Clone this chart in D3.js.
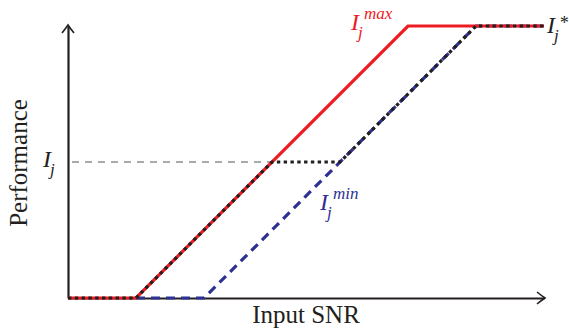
<!DOCTYPE html>
<html>
<head>
<meta charset="utf-8">
<script src="https://cdn.jsdelivr.net/npm/d3@7"></script>
<style>
  html, body { margin: 0; padding: 0; background: #fff; }
  svg { display: block; }
  text { font-family: "Liberation Serif", "Times New Roman", serif; fill: #231f20; }
</style>
</head>
<body>
<svg id="chart" width="569" height="329"></svg>
<script>
// Piecewise-linear performance curves versus input SNR (arbitrary units)
const maxCurveX = [0, 1, 5, 7];          // I_j^max : best-case response
const maxCurveY = [0, 0, 4, 4];
const minCurveX = [1, 2, 6, 7];          // I_j^min : worst-case response
const minCurveY = [0, 0, 4, 4];
const optCurveX = [0, 1, 3, 4, 6, 7];    // I_j^* : achieved response
const optCurveY = [0, 0, 2, 2, 4, 4];
const targetLevel = 2;                   // I_j
const xDomain = [0, 7];
const yDomain = [0, 4];

const svg = d3.select("#chart");
const x = d3.scaleLinear().domain(xDomain).range([68, 544]);
const y = d3.scaleLinear().domain(yDomain).range([298, 26]);

const ink = "#231f20", red = "#ed1c24", blue = "#2e3192";

// Axes: bare domain lines ending in open arrowheads
const gx = svg.append("g").attr("transform", `translate(0,${y(0)})`)
  .call(d3.axisBottom(x).tickValues([]).tickSizeOuter(0));
const gy = svg.append("g").attr("transform", `translate(${x(0)},0)`)
  .call(d3.axisLeft(y).tickValues([]).tickSizeOuter(0));
[gx, gy].forEach(g => g.select(".domain").attr("stroke", ink).attr("stroke-width", 2.2));

const ax = x(0), ay = y(0), tipX = x(xDomain[1]) + 1, tipY = y(yDomain[1]) - 1;
svg.append("path")
  .attr("d", `M${tipX - 8},${ay - 6} Q${tipX - 3},${ay - 2} ${tipX},${ay} Q${tipX - 3},${ay + 2} ${tipX - 8},${ay + 6}`)
  .attr("fill", "none").attr("stroke", ink).attr("stroke-width", 1.6);
svg.append("path")
  .attr("d", `M${ax - 6},${tipY + 8} Q${ax - 2},${tipY + 3} ${ax},${tipY} Q${ax + 2},${tipY + 3} ${ax + 6},${tipY + 8}`)
  .attr("fill", "none").attr("stroke", ink).attr("stroke-width", 1.6);

const line = d3.line().x(d => x(d[0])).y(d => y(d[1]));
const pts = (xs, ys) => xs.map((v, i) => [v, ys[i]]);

// Reference level I_j up to the best-case curve
const levelX = (targetLevel - maxCurveY[1]) + maxCurveX[1];
svg.append("path")
  .attr("d", line([[0, targetLevel], [levelX, targetLevel]]))
  .attr("fill", "none").attr("stroke", "#555").attr("stroke-width", 1)
  .attr("stroke-dasharray", "7,6").attr("stroke-dashoffset", -4);

svg.append("path").attr("d", line(pts(minCurveX, minCurveY)))
  .attr("fill", "none").attr("stroke", blue).attr("stroke-width", 3.2)
  .attr("stroke-dasharray", "9,6");
svg.append("path").attr("d", line(pts(maxCurveX, maxCurveY)))
  .attr("fill", "none").attr("stroke", red).attr("stroke-width", 3.2);
svg.append("path").attr("d", line(pts(optCurveX, optCurveY)))
  .attr("fill", "none").attr("stroke", ink).attr("stroke-width", 3.2)
  .attr("stroke-dasharray", "3.4,3.4");

// Axis titles
svg.append("text").attr("x", 306).attr("y", 323).attr("text-anchor", "middle")
  .attr("font-size", 25).text("Input SNR");
svg.append("text").attr("transform", "translate(27,163) rotate(-90)")
  .attr("text-anchor", "middle").attr("font-size", 25).text("Performance");

// Math labels: I with subscript j and optional superscript, as one text element
function mathLabel(px, py, sup, color, supSize, supDx) {
  const t = svg.append("text").style("font-style", "italic").style("fill", color);
  t.append("tspan").attr("x", px).attr("y", py).attr("font-size", 24).text("I");
  t.append("tspan").attr("x", px + 7).attr("y", py + 8).attr("font-size", 17).text("j");
  if (sup) t.append("tspan").attr("x", px + (supDx || 13)).attr("y", py - (supSize > 17 ? 4 : 11))
    .attr("font-size", supSize || 17).text(sup);
}
mathLabel(43, 167, null, ink);
mathLabel(351, 30, "max", red);
mathLabel(547, 33, "*", ink, 18, 12);
mathLabel(320, 210, "min", blue);
</script>
</body>
</html>
